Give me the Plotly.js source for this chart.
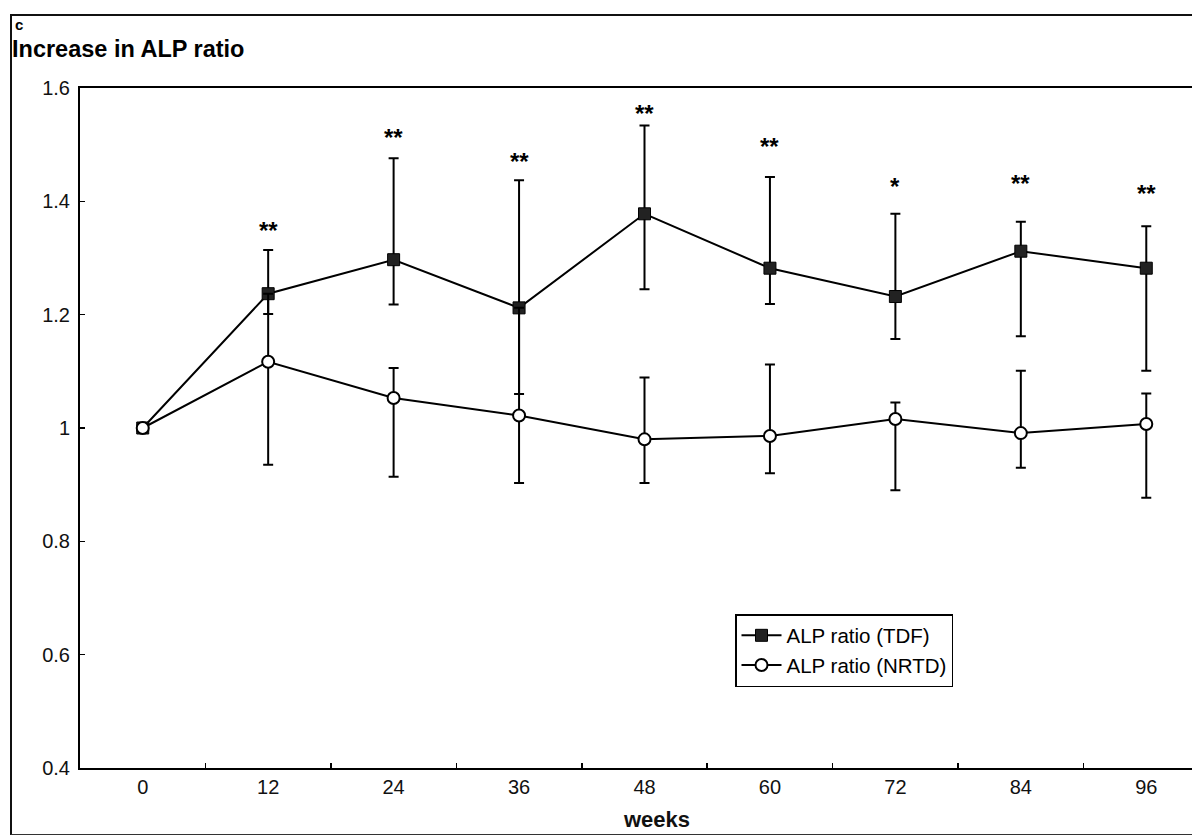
<!DOCTYPE html>
<html>
<head>
<meta charset="utf-8">
<script src="https://cdn.plot.ly/plotly-3.0.1.min.js"></script>
<style>
  html, body { margin: 0; padding: 0; overflow: hidden; background: #fff; width: 1192px; height: 835px; }
  #chart { position: absolute; left: 0; top: 0; width: 1230px; height: 835px; }
  #frame { position: absolute; left: 10px; top: 14px; width: 1300px; height: 818px;
           border-left: 2px solid #111; border-top: 2px solid #111; border-bottom: 1px solid #333;
           pointer-events: none; z-index: 5; }
</style>
</head>
<body>
<div id="chart"></div>
<div id="frame"></div>
<script>
// ---- data ----
const weeks = ["0", "12", "24", "36", "48", "60", "72", "84", "96"];

const tdf      = [1.000, 1.237, 1.297, 1.212, 1.378, 1.282, 1.232, 1.312, 1.282];
const tdfHigh  = [null,  1.314, 1.476, 1.437, 1.534, 1.443, 1.378, 1.364, 1.356];
const tdfLow   = [null,  1.201, 1.218, 1.060, 1.245, 1.219, 1.157, 1.162, 1.101];

const nrtd     = [1.000, 1.117, 1.053, 1.022, 0.980, 0.986, 1.016, 0.991, 1.007];
const nrtdHigh = [null,  1.237, 1.106, 1.212, 1.089, 1.112, 1.045, 1.101, 1.061];
const nrtdLow  = [null,  0.935, 0.914, 0.903, 0.903, 0.920, 0.890, 0.930, 0.877];

const sigLabels = ["", "**", "**", "**", "**", "**", "*", "**", "**"];
const sigY      = [null, 1.349, 1.512, 1.470, 1.555, 1.497, 1.427, 1.432, 1.414];

const seriesNames = ["ALP ratio (TDF)", "ALP ratio (NRTD)"];
const xTitle = "weeks";
const chartTitle = "Increase in ALP ratio";
const panelLabel = "c";

// ---- build ----
const plus  = (hi, v) => hi.map((h, i) => h == null ? null : h - v[i]);
const minus = (lo, v) => lo.map((l, i) => l == null ? null : v[i] - l);

const FONT = "Liberation Sans, Arial, sans-serif";

const traceTDF = {
  x: weeks, y: tdf, name: seriesNames[0], type: "scatter", mode: "lines+markers",
  line: { color: "#000", width: 2 },
  marker: { symbol: "square", size: 12, color: "#222", line: { color: "#000", width: 1 } },
  error_y: { type: "data", symmetric: false, array: plus(tdfHigh, tdf), arrayminus: minus(tdfLow, tdf),
             color: "#000", thickness: 2, width: 5 }
};
const traceNRTD = {
  x: weeks, y: nrtd, name: seriesNames[1], type: "scatter", mode: "lines+markers",
  line: { color: "#000", width: 2 },
  marker: { symbol: "circle", size: 12, color: "#fff", line: { color: "#000", width: 2 } },
  error_y: { type: "data", symmetric: false, array: plus(nrtdHigh, nrtd), arrayminus: minus(nrtdLow, nrtd),
             color: "#000", thickness: 2, width: 5 }
};

// category axis: annotations positioned by category index
const sigAnnotations = weeks.map((w, i) => sigLabels[i] ? {
  x: i, y: sigY[i], xref: "x", yref: "y", text: "<b>" + sigLabels[i] + "</b>",
  showarrow: false, xanchor: "center", yanchor: "middle", yshift: 0,
  font: { family: FONT, size: 24, color: "#000" }
} : null).filter(a => a);

const layout = {
  width: 1230, height: 835,
  margin: { l: 80, r: 21, t: 88, b: 67, pad: 0 },
  paper_bgcolor: "#fff", plot_bgcolor: "#fff",
  font: { family: FONT, color: "#000" },
  title: {
    text: "<b>" + chartTitle + "</b>",
    font: { family: FONT, size: 23.5, color: "#000" },
    xref: "container", x: 12 / 1230, xanchor: "left",
    yref: "container", y: 1 - 49 / 835, yanchor: "middle"
  },
  xaxis: {
    type: "category", range: [-0.5, 8.5],
    showline: true, mirror: true, linecolor: "#000", linewidth: 2,
    ticks: "inside", tickson: "boundaries", ticklen: 5, tickwidth: 1.5, tickcolor: "#000",
    showgrid: false, zeroline: false,
    tickfont: { family: FONT, size: 20, color: "#111" }
  },
  yaxis: {
    range: [0.4, 1.6], tick0: 0.4, dtick: 0.2,
    showline: true, mirror: true, linecolor: "#000", linewidth: 2,
    ticks: "inside", ticklen: 5, tickwidth: 1.5, tickcolor: "#000",
    showgrid: false, zeroline: false, ticklabelstandoff: 4,
    tickfont: { family: FONT, size: 20, color: "#111" }
  },
  legend: {
    x: (735 - 80) / 1129, xanchor: "left",
    y: (768 - 614) / 680, yanchor: "top",
    bgcolor: "#fff", bordercolor: "#000", borderwidth: 1.5,
    font: { family: FONT, size: 20.5, color: "#000" },
    itemwidth: 40, tracegroupgap: 0
  },
  annotations: [
    {
      text: "<b>" + panelLabel + "</b>", xref: "paper", yref: "paper",
      x: (13 - 80) / 1129, y: 1 + (88 - 25) / 680, xanchor: "left", yanchor: "middle",
      showarrow: false, font: { family: FONT, size: 15, color: "#000" }
    },
    {
      text: "<b>" + xTitle + "</b>", xref: "paper", yref: "paper",
      x: (656 - 80) / 1129, y: (768 - 819) / 680, xanchor: "center", yanchor: "middle",
      showarrow: false, font: { family: FONT, size: 22, color: "#111" }
    }
  ].concat(sigAnnotations),
  showlegend: true
};

Plotly.newPlot("chart", [traceTDF, traceNRTD], layout, { displayModeBar: false, staticPlot: true });
</script>
</body>
</html>
